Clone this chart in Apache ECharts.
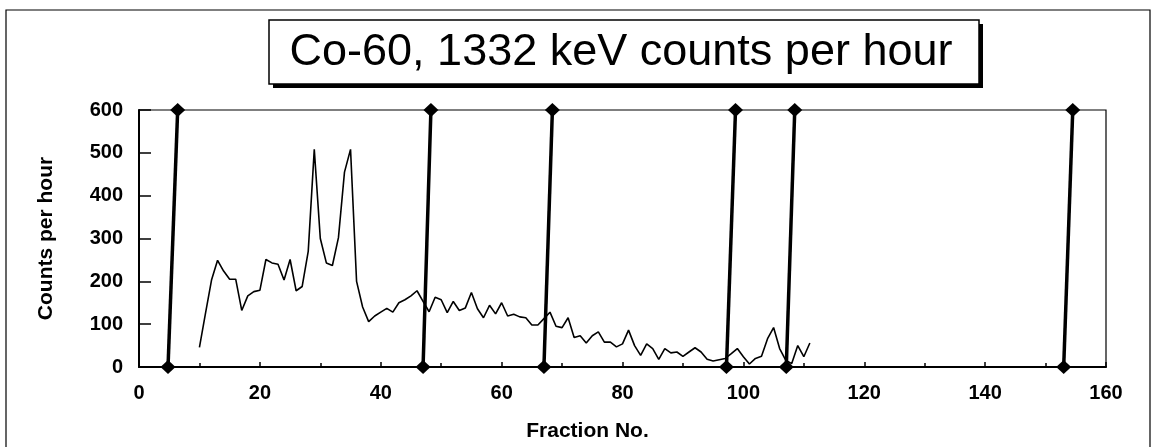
<!DOCTYPE html>
<html><head><meta charset="utf-8">
<script src="https://cdn.jsdelivr.net/npm/echarts@6/dist/echarts.min.js"></script>
<style>html,body{margin:0;padding:0;background:#fff}#c{width:1159px;height:447px}</style>
</head><body><div id="c"></div>
<script>
const titleText = 'Co-60, 1332 keV counts per hour';
const xAxisTitle = 'Fraction No.';
const yAxisTitle = 'Counts per hour';

const fractionNo = [10,11,12,13,14,15,16,17,18,19,20,21,22,23,24,25,26,27,28,29,30,31,32,33,34,35,36,37,38,39,40,41,42,43,44,45,46,47,48,49,50,51,52,53,54,55,56,57,58,59,60,61,62,63,64,65,66,67,68,69,70,71,72,73,74,75,76,77,78,79,80,81,82,83,84,85,86,87,88,89,90,91,92,93,94,95,96,97,98,99,100,101,102,103,104,105,106,107,108,109,110,111];
const countsPerHour = [46,125,203,249,224,205,205,132,166,176,179,251,243,240,203,251,178,188,270,508,300,243,237,302,455,508,200,140,106,119,128,137,128,150,157,166,178,153,129,163,157,127,153,132,138,174,136,115,144,124,150,119,123,117,115,98,98,113,128,95,92,115,69,73,56,73,82,58,58,47,54,86,50,27,54,43,18,43,33,35,25,35,45,35,18,14,17,20,31,43,24,7,20,25,66,92,43,16,8,50,24,56];

// Fraction boundary markers (bottom end at 0, top end at 600)
const boundaryBottomX = [4.8, 47, 67, 97.2, 107.1, 153];
const boundaryTopX = [6.4, 48.3, 68.4, 98.7, 108.5, 154.5];
const boundaryLowY = 0;
const boundaryHighY = 600;

const xMin = 0, xMax = 160, xInterval = 20;
const yMin = 0, yMax = 600, yInterval = 100;

const chart = echarts.init(document.getElementById('c'), null, {renderer: 'canvas'});

const mainData = fractionNo.map((f, i) => [f, countsPerHour[i]]);
const boundarySeries = boundaryBottomX.map((xb, i) => ({
  type: 'line',
  name: 'boundary' + (i + 1),
  data: [[xb, boundaryLowY], [boundaryTopX[i], boundaryHighY]],
  symbol: 'diamond',
  symbolSize: [15, 14],
  showSymbol: true,
  itemStyle: {color: '#000'},
  lineStyle: {color: '#000', width: 3.5},
  clip: false,
  z: 5,
  animation: false
}));

const FONT = 'Liberation Sans, Arial, sans-serif';

chart.setOption({
  animation: false,
  backgroundColor: '#fff',
  grid: {left: 139, right: 53, top: 110, bottom: 75, show: true, borderColor: '#000', borderWidth: 1.2, containLabel: false},
  xAxis: {
    type: 'value', min: xMin, max: xMax, interval: xInterval,
    name: xAxisTitle, nameLocation: 'middle', nameGap: 54,
    nameTextStyle: {color: '#000', fontFamily: FONT, fontWeight: 'bold', fontSize: 21, padding: [0, 70, 0, 0]},
    axisLine: {show: true, lineStyle: {color: '#000', width: 2}},
    axisTick: {show: true, inside: true, length: 5, lineStyle: {color: '#000', width: 1.5}},
    minorTick: {show: true, splitNumber: 2, length: 4, lineStyle: {color: '#000', width: 1.5}},
    axisLabel: {color: '#000', fontFamily: FONT, fontWeight: 'bold', fontSize: 20, margin: 16},
    splitLine: {show: false}
  },
  yAxis: {
    type: 'value', min: yMin, max: yMax, interval: yInterval,
    name: yAxisTitle, nameLocation: 'middle', nameGap: 82, nameRotate: 90,
    nameTextStyle: {color: '#000', fontFamily: FONT, fontWeight: 'bold', fontSize: 21},
    axisLine: {show: true, lineStyle: {color: '#000', width: 2}},
    axisTick: {show: true, inside: true, length: 12, lineStyle: {color: '#000', width: 1.5}},
    axisLabel: {color: '#000', fontFamily: FONT, fontWeight: 'bold', fontSize: 20, margin: 16},
    splitLine: {show: false}
  },
  graphic: [
    {type: 'rect', z: -1, silent: true, shape: {x: 6, y: 10, width: 1144, height: 460}, style: {fill: 'none', stroke: '#000', lineWidth: 1.2}},
    {type: 'rect', z: 10, silent: true, shape: {x: 273, y: 24, width: 710, height: 64}, style: {fill: '#000'}},
    {type: 'rect', z: 11, silent: true, shape: {x: 269, y: 20, width: 710, height: 64}, style: {fill: '#fff', stroke: '#000', lineWidth: 1.5}},
    {type: 'text', z: 12, silent: true, style: {text: titleText, x: 621, y: 53, font: '45px "Liberation Sans", Arial, sans-serif', fill: '#000', textAlign: 'center', textVerticalAlign: 'middle', align: 'center', verticalAlign: 'middle'}}
  ],
  series: [
    {
      type: 'line', name: 'Counts per hour', data: mainData, symbol: 'none',
      lineStyle: {color: '#000', width: 1.6}, z: 3, animation: false
    }
  ].concat(boundarySeries)
});
</script></body></html>
